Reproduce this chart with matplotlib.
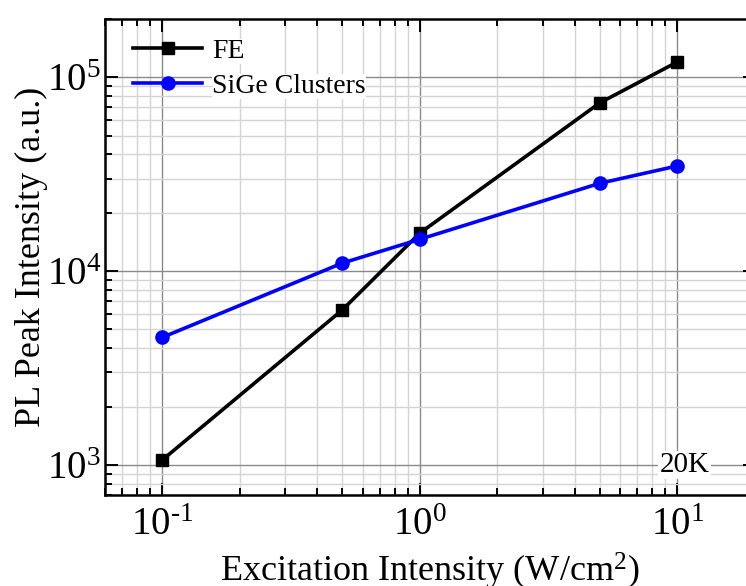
import matplotlib
matplotlib.use("Agg")
import matplotlib.pyplot as plt
from matplotlib.ticker import LogLocator, FuncFormatter, NullFormatter
import numpy as np

# Excitation power (W/cm^2) and PL peak intensities (a.u.)
excitation = [0.1, 0.5, 1.0, 5.0, 10.0]
fe_intensity = [1060, 6300, 15700, 73800, 120000]
sige_intensity = [4550, 11000, 14600, 28400, 34900]

plt.rcParams["font.family"] = ["Liberation Serif", "DejaVu Serif"]
plt.rcParams["mathtext.fontset"] = "custom"
plt.rcParams["mathtext.rm"] = "Liberation Serif"
plt.rcParams["mathtext.it"] = "Liberation Serif:italic"
plt.rcParams["mathtext.bf"] = "Liberation Serif:bold"


def decade_label(v, pos):
    e = int(round(np.log10(v)))
    exp = r"\text{-}%d" % -e if e < 0 else "%d" % e
    return r"$\mathregular{10^{%s}}$" % exp


fig = plt.figure(figsize=(7.46, 5.86), dpi=100)
ax = fig.add_axes([0.1408, 0.1553, 0.871, 0.8123])

ax.set_xscale("log")
ax.set_yscale("log")
ax.set_xlim(0.06, 20)
ax.set_ylim(700, 2e5)

ax.grid(True, which="major", color="#8a8a8a", linewidth=1.0, zorder=0)
ax.grid(True, which="minor", color="#d4d4d4", linewidth=1.0, zorder=0)
ax.set_axisbelow(True)

ax.plot(excitation, fe_intensity, color="black", linewidth=2.6, marker="s",
        markersize=8, label="FE", zorder=3)
ax.plot(excitation, sige_intensity, color="#0000ff", linewidth=2.6, marker="o",
        markersize=9.5, label="SiGe Clusters", zorder=3)

for a in (ax.xaxis, ax.yaxis):
    a.set_major_locator(LogLocator(base=10))
    a.set_minor_locator(LogLocator(base=10, subs=range(2, 10)))
    a.set_minor_formatter(NullFormatter())
    a.set_major_formatter(FuncFormatter(decade_label))

ax.tick_params(which="both", direction="in", top=True, right=True, width=1.4,
               colors="black")
ax.tick_params(which="major", length=9, labelsize=28)
ax.tick_params(which="minor", length=5)
ax.tick_params(axis="x", which="major", pad=9)
ax.tick_params(axis="y", which="major", pad=3)
for s in ax.spines.values():
    s.set_linewidth(1.8)

ax.set_xlabel(r"Excitation Intensity (W/cm$^{2}$)", fontsize=26)
ax.set_ylabel("PL Peak Intensity (a.u.)", fontsize=26)
ax.yaxis.set_label_coords(-0.088, 0.5)
ax.xaxis.set_label_coords(0.5, -0.118)

leg = ax.legend(loc="upper left", frameon=False, fontsize=20, handlelength=2.5,
                handletextpad=0.35, labelspacing=0.35, borderaxespad=0.3,
                bbox_to_anchor=(0.013, 1.0))
for t in leg.get_texts():
    t.set_bbox(dict(facecolor="white", edgecolor="none", pad=0))

ax.text(10.7, 1000, "20K", fontsize=21, ha="center", va="center",
        bbox=dict(facecolor="white", edgecolor="none", pad=1), zorder=4)

fig.savefig("out.png", dpi=100)
